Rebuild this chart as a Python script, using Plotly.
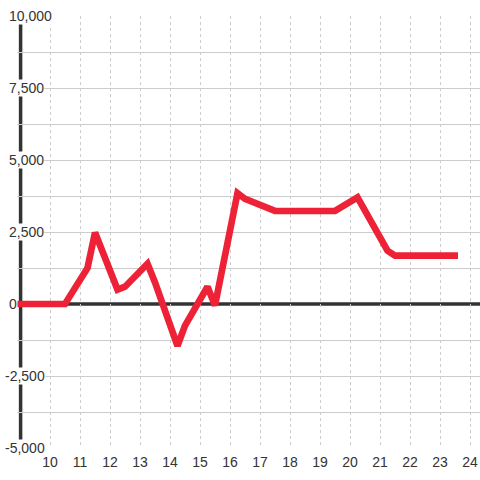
import plotly.graph_objects as go

# Hour of day and value
hours = [8.9, 10.5, 11.25, 11.5, 12.25, 12.5, 13.25, 13.5, 14.25, 14.5, 15.25, 15.5,
         16.25, 16.5, 17.5, 19.5, 20.25, 21.25, 21.5, 23.6]
values = [0, 0, 1250, 2480, 500, 600, 1400, 750, -1450, -750, 600, -50,
          3850, 3650, 3230, 3230, 3700, 1850, 1680, 1680]

x_ticks = list(range(10, 25))
y_ticks = [10000, 7500, 5000, 2500, 0, -2500, -5000]
y_grid = [v for v in range(-5000, 10001, 1250) if v != 0]

RED = "#ee2237"
DARK = "#333333"
FONT = "Liberation Sans"

fig = go.Figure()

# Thick zero line
fig.add_shape(type="line", xref="paper", yref="y", x0=0, x1=1, y0=0, y1=0,
              line=dict(color=DARK, width=3.5), layer="between")

# Thick left axis line at hour 9
fig.add_shape(type="line", xref="x", yref="paper", x0=9.02, x1=9.02, y0=0, y1=1,
              line=dict(color=DARK, width=3.5), layer="between")

fig.add_trace(go.Scatter(x=hours, y=values, mode="lines",
                         line=dict(color=RED, width=6.7), hoverinfo="skip"))

# Y labels sit on top of the axis line with a white background
for v in y_ticks:
    fig.add_annotation(x=9, xref="x", y=v, yref="y", text=f"{v:,}",
                       xanchor="left", yanchor="middle", showarrow=False,
                       xshift=-12 if v >= 0 else -16.5,
                       bgcolor="white", borderpad=0,
                       font=dict(family=FONT, size=14, color=DARK))

fig.update_xaxes(range=[8.9, 24.333], tickvals=x_ticks, ticktext=[str(t) for t in x_ticks],
                 showgrid=True, gridcolor="#cccccc", griddash="dot", gridwidth=1,
                 zeroline=False, showline=False, ticks="", automargin=False,
                 ticklabelstandoff=4,
                 tickfont=dict(family=FONT, size=14, color=DARK))

fig.update_yaxes(range=[-5000, 10000], tickvals=y_grid,
                 showgrid=True, gridcolor="#cccccc", gridwidth=1,
                 zeroline=False, showline=False, showticklabels=False, ticks="",
                 automargin=False)

fig.update_layout(width=480, height=480, showlegend=False,
                  margin=dict(l=17, r=0, t=16, b=32, autoexpand=False),
                  plot_bgcolor="white", paper_bgcolor="white")

# Drop the page's default body margin so the chart sits at the window corner
post = "document.body.style.margin='0';"
fig.write_html("out.html", post_script=post, config={"displayModeBar": False})
